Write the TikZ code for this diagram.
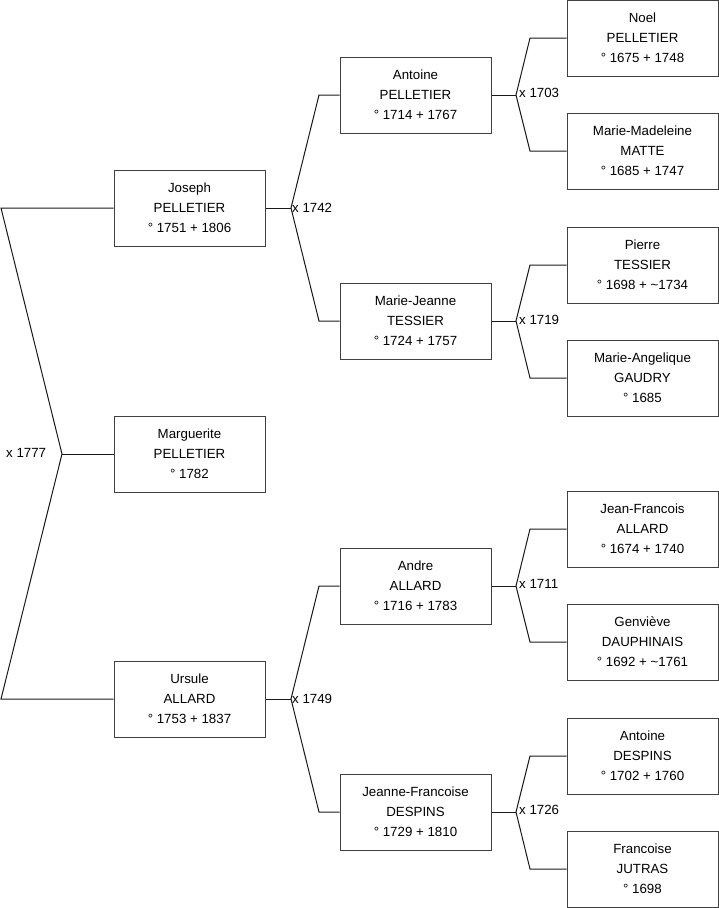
\documentclass[tikz,border=0pt]{standalone}
\usepackage{fontspec}
\setmainfont{Liberation Sans}
\begin{document}
\begin{tikzpicture}[x=1pt,y=-1pt,
  person/.style={draw=black!75,line width=1pt,fill=white,minimum width=151pt,minimum height=76pt,inner sep=0pt,align=center,font=\fontsize{13.3}{20}\selectfont},
  link/.style={draw=black!90,line width=1pt},
  mlabel/.style={anchor=west,inner sep=0pt,font=\fontsize{13.3}{16}\selectfont}]
\useasboundingbox (0,0) rectangle (719,908);
% column 1
\node[person] (joseph) at (189.5,208) {Joseph\\PELLETIER\\° 1751 + 1806};
\node[person] (marg) at (189.5,454) {Marguerite\\PELLETIER\\° 1782};
\node[person] (ursule) at (189.5,699) {Ursule\\ALLARD\\° 1753 + 1837};
% column 2
\node[person] (antoine) at (415.5,95) {Antoine\\PELLETIER\\° 1714 + 1767};
\node[person] (mj) at (415.5,321) {Marie-Jeanne\\TESSIER\\° 1724 + 1757};
\node[person] (andre) at (415.5,586) {Andre\\ALLARD\\° 1716 + 1783};
\node[person] (jf) at (415.5,812) {Jeanne-Francoise\\DESPINS\\° 1729 + 1810};
% column 3
\node[person] (noel) at (642.5,38) {Noel\\PELLETIER\\° 1675 + 1748};
\node[person] (mm) at (642.5,151) {Marie-Madeleine\\MATTE\\° 1685 + 1747};
\node[person] (pierre) at (642.5,265) {Pierre\\TESSIER\\° 1698 + \textasciitilde1734};
\node[person] (ma) at (642.5,378) {Marie-Angelique\\GAUDRY\\° 1685};
\node[person] (jfa) at (642.5,529) {Jean-Francois\\ALLARD\\° 1674 + 1740};
\node[person] (gen) at (642.5,642) {Genvi\`eve\\DAUPHINAIS\\° 1692 + \textasciitilde1761};
\node[person] (antd) at (642.5,756) {Antoine\\DESPINS\\° 1702 + 1760};
\node[person] (fr) at (642.5,869) {Francoise\\JUTRAS\\° 1698};
% joints
\coordinate (j0) at (62,454);
\coordinate (j0a) at (1,208);
\coordinate (j0b) at (1,699);
\coordinate (j1) at (291,208);
\coordinate (j1a) at (319,95);
\coordinate (j1b) at (319,321);
\coordinate (j2) at (291,699);
\coordinate (j2a) at (319,586);
\coordinate (j2b) at (319,812);
\coordinate (j3) at (516,95);
\coordinate (j3a) at (530,38);
\coordinate (j3b) at (530,151);
\coordinate (j4) at (516,321);
\coordinate (j4a) at (530,265);
\coordinate (j4b) at (530,378);
\coordinate (j5) at (516,586);
\coordinate (j5a) at (530,529);
\coordinate (j5b) at (530,642);
\coordinate (j6) at (516,812);
\coordinate (j6a) at (530,756);
\coordinate (j6b) at (530,869);
% connectors
\draw[link] (joseph.west) -- (j0a) -- (j0) -- (j0b) -- (ursule.west);
\draw[link] (j0) -- (marg.west);
\draw[link] (joseph.east) -- (j1);
\draw[link] (antoine.west) -- (j1a) -- (j1) -- (j1b) -- (mj.west);
\draw[link] (ursule.east) -- (j2);
\draw[link] (andre.west) -- (j2a) -- (j2) -- (j2b) -- (jf.west);
\draw[link] (antoine.east) -- (j3);
\draw[link] (noel.west) -- (j3a) -- (j3) -- (j3b) -- (mm.west);
\draw[link] (mj.east) -- (j4);
\draw[link] (pierre.west) -- (j4a) -- (j4) -- (j4b) -- (ma.west);
\draw[link] (andre.east) -- (j5);
\draw[link] (jfa.west) -- (j5a) -- (j5) -- (j5b) -- (gen.west);
\draw[link] (jf.east) -- (j6);
\draw[link] (antd.west) -- (j6a) -- (j6) -- (j6b) -- (fr.west);
% marriage labels
\node[mlabel] (m0) at (6,453) {x 1777};
\node[mlabel] (m1) at (292,208) {x 1742};
\node[mlabel] (m2) at (292,699) {x 1749};
\node[mlabel] (m3) at (519,93) {x 1703};
\node[mlabel] (m4) at (519,320) {x 1719};
\node[mlabel] (m5) at (519,584) {x 1711};
\node[mlabel] (m6) at (519,810) {x 1726};
\end{tikzpicture}
\end{document}
